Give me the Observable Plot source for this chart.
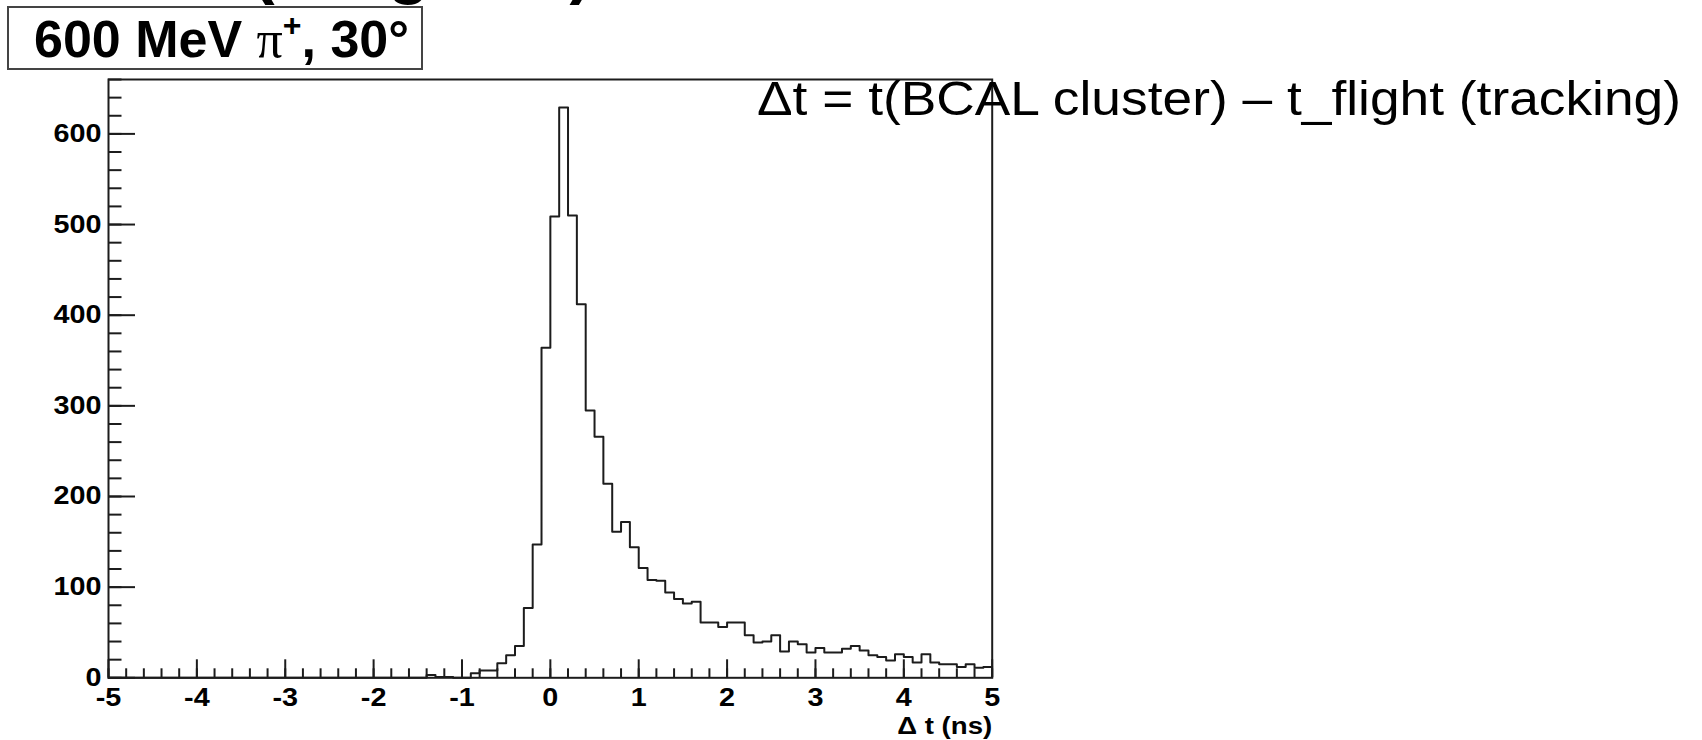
<!DOCTYPE html>
<html>
<head>
<meta charset="utf-8">
<script src="https://cdn.jsdelivr.net/npm/d3@7"></script>
<script src="https://cdn.jsdelivr.net/npm/@observablehq/plot@0.6"></script>
<style>
  html, body { margin: 0; padding: 0; background: #fff; }
  #wrap { position: relative; width: 1702px; height: 740px; overflow: hidden; background: #fff; }
  #chart { position: absolute; left: 0; top: 0; }
  #overlay { position: absolute; left: 0; top: 0; pointer-events: none; }
</style>
</head>
<body>
<div id="wrap">
  <div id="chart"></div>
  <svg id="overlay" width="1702" height="740" xmlns="http://www.w3.org/2000/svg">
    <text x="252" y="-9" font-family="Liberation Sans, Arial, sans-serif" font-weight="bold" font-size="68" fill="#000">(Progress)</text>
    <rect x="8" y="7" width="414" height="62" fill="#fff" stroke="#444" stroke-width="2"></rect>
    <text x="34" y="57" font-family="Liberation Sans, Arial, sans-serif" font-weight="bold" font-size="52" fill="#000">600 MeV <tspan font-family="Liberation Serif, serif" font-weight="normal">π</tspan><tspan font-size="32" dy="-21">+</tspan><tspan dy="21">, 30°</tspan></text>
    <text x="757" y="115" font-family="Liberation Sans, Arial, sans-serif" font-size="48" fill="#000" textLength="924" lengthAdjust="spacingAndGlyphs">Δt = t(BCAL cluster) – t_flight (tracking)</text>
  </svg>
</div>
<script>
// Histogram range and binning (100 bins of 0.1 ns)
const xRange = [-5, 5];
const binWidth = 0.1;
// Counts per bin, from -5.0 ns to +5.0 ns
const counts = [
  0, 0, 0, 0, 0, 0, 0, 0, 0, 0,        // -5.0 .. -4.1
  0, 0, 0, 0, 0, 0, 0, 0, 0, 0,        // -4.0 .. -3.1
  0, 0, 0, 0, 0, 0, 0, 0, 0, 0,        // -3.0 .. -2.1
  0, 0, 0, 0, 0, 0, 3, 1, 1, 0,        // -2.0 .. -1.1
  0, 5, 8, 8, 16, 25, 35, 77, 147, 364, // -1.0 .. -0.1
  509, 629, 510, 412, 295, 266, 214, 161, 172, 144, // 0.0 .. 0.9
  121, 108, 107, 94, 87, 82, 84, 61, 61, 56,        // 1.0 .. 1.9
  61, 61, 47, 39, 40, 47, 29, 40, 37, 28,           // 2.0 .. 2.9
  33, 28, 28, 32, 35, 30, 25, 23, 19, 26,           // 3.0 .. 3.9
  23, 17, 26, 17, 15, 15, 12, 15, 11, 12            // 4.0 .. 4.9
];
const yMax = 660;
const xTickLabels = [-5, -4, -3, -2, -1, 0, 1, 2, 3, 4, 5];
const yTickLabels = [0, 100, 200, 300, 400, 500, 600];
const xMinorTicks = d3.range(-50, 51, 2).map(d => d / 10);
const yMinorTicks = d3.range(0, 661, 20);
const xTitle = "Δ t (ns)";

// step outline points (low edge of each bin, plus closing point)
const steps = counts.map((c, i) => ({x: xRange[0] + i * binWidth, y: c}));
steps.push({x: xRange[1], y: counts[counts.length - 1]});

const W = 1702, H = 740;
const mL = 108, mR = W - 991.7, mT = 79, mB = H - 677.3;
const frameW = W - mL - mR, frameH = H - mT - mB;
const ink = "#1c1c1c";
const font = "Liberation Sans, Arial, sans-serif";

const chart = Plot.plot({
  width: W,
  height: H,
  marginLeft: mL,
  marginRight: mR,
  marginTop: mT,
  marginBottom: mB,
  style: {background: "transparent", overflow: "visible"},
  x: {domain: xRange, axis: null},
  y: {domain: [0, yMax], axis: null},
  marks: [
    Plot.frame({stroke: ink, strokeWidth: 2}),
    // x ticks (inward)
    Plot.ruleX(xMinorTicks, {x: d => d, insetTop: frameH - 9, stroke: ink, strokeWidth: 2}),
    Plot.ruleX(xTickLabels, {x: d => d, insetTop: frameH - 18, stroke: ink, strokeWidth: 2}),
    // y ticks (inward)
    Plot.ruleY(yMinorTicks, {y: d => d, insetRight: frameW - 13.5, stroke: ink, strokeWidth: 2}),
    Plot.ruleY(yTickLabels, {y: d => d, insetRight: frameW - 27, stroke: ink, strokeWidth: 2}),
    // histogram outline
    Plot.line(steps, {x: "x", y: "y", curve: "step-after", stroke: ink, strokeWidth: 2}),
    // tick labels
    Plot.text(xTickLabels, {x: d => d, y: 0, text: d => String(d), lineAnchor: "top", dy: 10,
      fontFamily: font, fontWeight: "bold", fontSize: 25, fill: "#000"}),
    Plot.text(yTickLabels, {x: xRange[0], y: d => d, text: d => String(d), textAnchor: "end", dx: -7,
      fontFamily: font, fontWeight: "bold", fontSize: 25, fill: "#000"}),
    Plot.text([xTitle], {x: xRange[1], y: 0, text: d => d, textAnchor: "end", lineAnchor: "top", dy: 39,
      fontFamily: font, fontWeight: "bold", fontSize: 24, fill: "#000"})
  ]
});

document.getElementById("chart").appendChild(chart);

// ROOT canvas was stretched horizontally: widen the axis texts accordingly
chart.querySelectorAll("text").forEach(el => {
  const len = el.getComputedTextLength();
  if (len > 0) {
    el.setAttribute("textLength", (len * 1.15).toFixed(1));
    el.setAttribute("lengthAdjust", "spacingAndGlyphs");
  }
});
</script>
</body>
</html>
